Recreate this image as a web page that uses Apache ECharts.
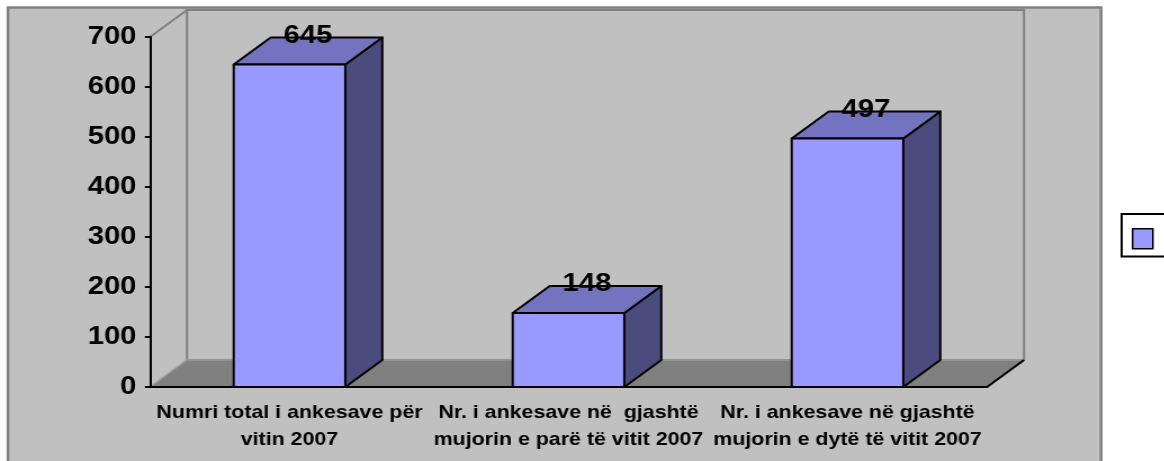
<!DOCTYPE html>
<html>
<head>
<meta charset="utf-8">
<script src="https://cdn.jsdelivr.net/npm/echarts@6/dist/echarts.min.js"></script>
<style>
  html, body { margin: 0; padding: 0; background: #fff; overflow: hidden; }
  /* the original picture is stretched sideways, so the chart is drawn narrow and scaled */
  #chart { width: 1034.67px; height: 461px; transform: scaleX(1.125); transform-origin: 0 0; }
</style>
</head>
<body>
<div id="chart"></div>
<script>
const categories = [
  'Numri total i ankesave për\nvitin 2007',
  'Nr. i ankesave në  gjashtë\nmujorin e parë të vitit 2007',
  'Nr. i ankesave në gjashtë\nmujorin e dytë të vitit 2007'
];
const values = [645, 148, 497];
const seriesName = 'Seria 1';

const font = "'Liberation Sans', Arial, sans-serif";
const depthX = 32.9;
const depthY = -27;

let chart = echarts.init(document.getElementById('chart'));

function renderWalls(params, api) {
  const cs = params.coordSys;
  const x = cs.x, y = cs.y, w = cs.width, h = cs.height;
  return {
    type: 'group',
    children: [
      {
        type: 'polygon',
        shape: { points: [[x + depthX, y + depthY], [x + w + depthX, y + depthY], [x + w + depthX, y + h + depthY], [x + depthX, y + h + depthY]] },
        style: { fill: '#c0c0c0', stroke: '#808080', lineWidth: 2 }
      },
      {
        type: 'polyline',
        shape: { points: [[x, y], [x + depthX, y + depthY]] },
        style: { stroke: '#808080', lineWidth: 2, fill: null }
      },
      {
        type: 'polygon',
        shape: { points: [[x, y + h], [x + depthX, y + h + depthY], [x + w + depthX, y + h + depthY], [x + w, y + h]] },
        style: { fill: '#808080', stroke: '#9a9a9a', lineWidth: 1.5 }
      },
      {
        type: 'polyline',
        shape: { points: [[x + w, y + h], [x + w + depthX, y + h + depthY]] },
        style: { stroke: '#000', lineWidth: 2, fill: null }
      }
    ]
  };
}

function renderBar(params, api) {
  const i = api.value(0);
  const v = api.value(1);
  const top = api.coord([i, v]);
  const base = api.coord([i, 0]);
  const bw = api.size([1, 0])[0] * 0.4;
  const x0 = top[0] - bw / 2, x1 = top[0] + bw / 2;
  const yt = top[1], yb = base[1];
  const edge = { stroke: '#000', lineWidth: 2, lineJoin: 'round' };
  return {
    type: 'group',
    children: [
      {
        type: 'polygon',
        shape: { points: [[x1, yt], [x1 + depthX, yt + depthY], [x1 + depthX, yb + depthY], [x1, yb]] },
        style: Object.assign({ fill: '#4b4b7e' }, edge)
      },
      {
        type: 'polygon',
        shape: { points: [[x0, yt], [x0 + depthX, yt + depthY], [x1 + depthX, yt + depthY], [x1, yt]] },
        style: Object.assign({ fill: '#7373bf' }, edge)
      },
      {
        type: 'rect',
        shape: { x: x0, y: yt, width: bw, height: yb - yt },
        style: Object.assign({ fill: '#9999ff' }, edge)
      },
      {
        type: 'text',
        x: top[0] + depthX / 2,
        y: yt + depthY - 2,
        style: {
          text: String(v),
          fill: '#000',
          font: 'bold 26px ' + font,
          align: 'center',
          verticalAlign: 'middle'
        }
      }
    ]
  };
}

let option = {
  animation: false,
  backgroundColor: '#fff',
  graphic: [{
    type: 'rect',
    z: -100,
    shape: { x: 7.1, y: 7.5, width: 971.6, height: 470 },
    style: { fill: '#c0c0c0', stroke: '#808080', lineWidth: 2.5 }
  }],
  legend: {
    data: [seriesName],
    left: 997,
    top: 214,
    orient: 'vertical',
    padding: [14, 40, 7, 9],
    backgroundColor: '#fff',
    borderColor: '#000',
    borderWidth: 2,
    borderRadius: 0,
    icon: 'rect',
    itemWidth: 18,
    itemHeight: 20,
    itemStyle: { borderColor: '#000', borderWidth: 1.5 },
    formatter: function () { return ''; }
  },
  grid: { left: 133.33, top: 37, width: 744, height: 350 },
  xAxis: {
    type: 'category',
    data: categories,
    z: 5,
    axisLine: { lineStyle: { color: '#000', width: 2 } },
    axisTick: { length: 6, lineStyle: { color: '#000', width: 2 } },
    axisLabel: {
      interval: 0,
      margin: 12,
      color: '#000',
      fontFamily: font,
      fontWeight: 'bold',
      fontSize: 19,
      lineHeight: 27,
      align: 'center'
    },
    splitLine: { show: false }
  },
  yAxis: {
    type: 'value',
    min: 0,
    max: 700,
    interval: 100,
    z: 5,
    axisLine: { show: true, lineStyle: { color: '#000', width: 2 } },
    axisTick: { show: true, length: 4.5, lineStyle: { color: '#000', width: 2 } },
    axisLabel: {
      margin: 12,
      color: '#000',
      fontFamily: font,
      fontWeight: 'bold',
      fontSize: 26
    },
    splitLine: { show: false }
  },
  series: [
    {
      name: 'walls',
      type: 'custom',
      z: 1,
      silent: true,
      renderItem: renderWalls,
      data: [[0, 0]]
    },
    {
      name: seriesName,
      type: 'custom',
      z: 3,
      itemStyle: { color: '#9999ff' },
      renderItem: renderBar,
      encode: { x: 0, y: 1 },
      data: values.map((v, i) => [i, v])
    }
  ]
};

chart.setOption(option);
</script>
</body>
</html>
